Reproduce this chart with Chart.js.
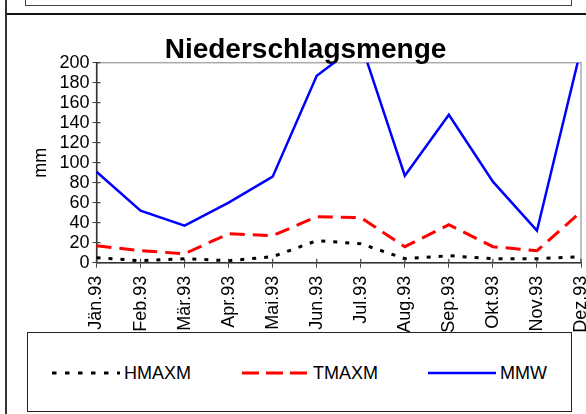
<!DOCTYPE html>
<html lang="de">
<head>
    <meta charset="UTF-8">
    <title>Niederschlagsmenge</title>
    <style>
        body {
            margin: 0;
            background: #fff;
            font-family: "Liberation Sans", Arial, sans-serif;
        }

        #sheet {
            position: relative;
            width: 586px;
            height: 414px;
            overflow: hidden;
        }

        /* frame lines of the surrounding sheet */
        #topBox {
            position: absolute;
            left: 25px;
            top: -20px;
            width: 545px;
            height: 24px;
            border: 1.5px solid #444;
        }
        #hLine {
            position: absolute;
            left: 6px;
            top: 13px;
            width: 580px;
            height: 2px;
            background: #111;
        }
        #vLine {
            position: absolute;
            left: 5px;
            top: 0;
            width: 2px;
            height: 414px;
            background: #333;
        }

        #chartBox {
            position: absolute;
            left: 0;
            top: 0;
            width: 586px;
            height: 414px;
        }

        /* legend box below the chart */
        #legend {
            position: absolute;
            left: 27px;
            top: 332px;
            width: 543px;
            height: 78px;
            border: 1px solid #222;
            background: #fff;
        }
        .item {
            position: absolute;
            top: 29px;
            height: 22px;
            font-size: 18px;
            line-height: 22px;
            color: #000;
        }
        .item svg {
            position: absolute;
            top: 0;
            left: 0;
        }
        .item span {
            position: absolute;
            top: 0;
            white-space: nowrap;
        }
    </style>
    <script src="https://cdn.jsdelivr.net/npm/chart.js"></script>
</head>
<body>
<div id="sheet">
    <div id="topBox"></div>
    <div id="hLine"></div>
    <div id="vLine"></div>
    <div id="chartBox"><canvas id="rainChart" width="586" height="414"></canvas></div>
    <div id="legend">
        <div class="item" style="left:24px">
            <svg width="70" height="22"><line x1="0" y1="11" x2="68" y2="11" stroke="#000" stroke-width="3" stroke-dasharray="4.5 8.5"/></svg>
            <span style="left:72px">HMAXM</span>
        </div>
        <div class="item" style="left:214px">
            <svg width="70" height="22"><line x1="0" y1="11" x2="65" y2="11" stroke="#f00" stroke-width="3" stroke-dasharray="17 7"/></svg>
            <span style="left:71px">TMAXM</span>
        </div>
        <div class="item" style="left:400px">
            <svg width="70" height="22"><line x1="0" y1="11" x2="68" y2="11" stroke="#00f" stroke-width="2.5"/></svg>
            <span style="left:72px">MMW</span>
        </div>
    </div>
</div>

<script>
    // Monthly values 1993
    const months = ['Jän.93', 'Feb.93', 'Mär.93', 'Apr.93', 'Mai.93', 'Jun.93',
                    'Jul.93', 'Aug.93', 'Sep.93', 'Okt.93', 'Nov.93', 'Dez.93'];
    const hmaxm = [5, 2, 4, 2, 6, 22, 19, 4, 7, 4, 4, 6];
    const tmaxm = [17, 12, 9, 29, 27, 46, 45, 16, 38, 16, 12, 51];
    const mmw = [91, 52, 37, 60, 86, 187, 220, 87, 148, 81, 32, 214];

    const fontFamily = '"Liberation Sans", Arial, sans-serif';

    // grey frame round the plot area, axes are drawn over it afterwards
    const plotFrame = {
        id: 'plotFrame',
        beforeDraw(chart) {
            const a = chart.chartArea;
            const ctx = chart.ctx;
            ctx.save();
            ctx.strokeStyle = '#aaa';
            ctx.lineWidth = 1.5;
            ctx.strokeRect(a.left, a.top, a.right - a.left, a.bottom - a.top);
            ctx.restore();
        }
    };

    // inner half of the tick marks, so they cross the axis lines
    const crossTicks = {
        id: 'crossTicks',
        afterDraw(chart) {
            const ctx = chart.ctx;
            const x = chart.scales.x;
            const y = chart.scales.y;
            ctx.save();
            ctx.strokeStyle = '#444';
            ctx.lineWidth = 1.2;
            ctx.beginPath();
            y.ticks.forEach((t, i) => {
                const py = y.getPixelForTick(i);
                ctx.moveTo(y.right, py);
                ctx.lineTo(y.right + 4, py);
            });
            x.ticks.forEach((t, i) => {
                const px = x.getPixelForTick(i);
                ctx.moveTo(px, x.top);
                ctx.lineTo(px, x.top - 4);
            });
            ctx.stroke();
            ctx.restore();
        }
    };

    new Chart(document.getElementById('rainChart'), {
        type: 'line',
        data: {
            labels: months,
            datasets: [
                {
                    label: 'HMAXM',
                    data: hmaxm,
                    borderColor: '#000',
                    borderWidth: 3,
                    borderDash: [4, 8],
                    pointRadius: 0,
                    tension: 0
                },
                {
                    label: 'TMAXM',
                    data: tmaxm,
                    borderColor: '#f00',
                    borderWidth: 3,
                    borderDash: [15, 8],
                    pointRadius: 0,
                    tension: 0
                },
                {
                    label: 'MMW',
                    data: mmw,
                    borderColor: '#00f',
                    borderWidth: 2.5,
                    pointRadius: 0,
                    tension: 0
                }
            ]
        },
        options: {
            responsive: false,
            animation: false,
            events: [],
            layout: {
                padding: { left: 30, right: 5, top: 22, bottom: 0 }
            },
            plugins: {
                legend: { display: false },
                tooltip: { enabled: false },
                title: {
                    display: true,
                    text: 'Niederschlagsmenge',
                    color: '#000',
                    font: { family: fontFamily, size: 28, weight: 'bold', lineHeight: 1 },
                    padding: { top: 14, bottom: -1.3 }
                }
            },
            scales: {
                x: {
                    offset: false,
                    grid: {
                        display: true,
                        drawOnChartArea: false,
                        drawTicks: true,
                        tickLength: 5,
                        color: '#444'
                    },
                    border: { display: true, color: '#333', width: 1.5 },
                    ticks: {
                        color: '#000',
                        font: { family: fontFamily, size: 18 },
                        minRotation: 90,
                        maxRotation: 90,
                        autoSkip: false,
                        padding: 8
                    },
                    afterFit(scale) {
                        scale.height = 151.3;
                        scale.paddingLeft = 0;
                        scale.paddingRight = 0;
                    }
                },
                y: {
                    min: 0,
                    max: 200,
                    grid: {
                        display: true,
                        drawOnChartArea: false,
                        drawTicks: true,
                        tickLength: 4,
                        color: '#444'
                    },
                    border: { display: true, color: '#333', width: 1.5 },
                    ticks: {
                        stepSize: 20,
                        autoSkip: false,
                        color: '#000',
                        font: { family: fontFamily, size: 18 },
                        padding: 3
                    },
                    title: {
                        display: true,
                        text: 'mm',
                        color: '#000',
                        font: { family: fontFamily, size: 18 },
                        padding: 0
                    },
                    afterFit(scale) {
                        scale.width = 66.5;
                    }
                }
            }
        },
        plugins: [plotFrame, crossTicks]
    });
</script>
</body>
</html>
